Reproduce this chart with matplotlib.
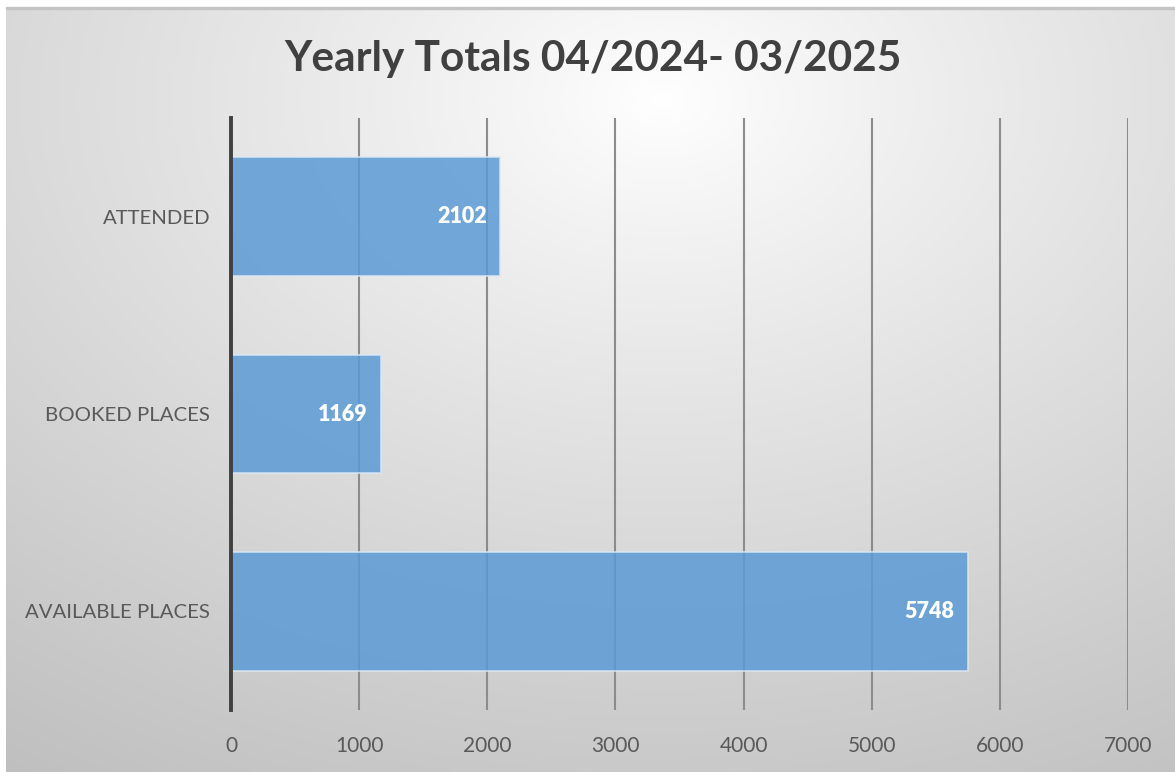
import numpy as np
import matplotlib.pyplot as plt
from matplotlib.patches import Rectangle

categories = ["AVAILABLE PLACES", "BOOKED PLACES", "ATTENDED"]
values = [5748, 1169, 2102]
x_ticks = [0, 1000, 2000, 3000, 4000, 5000, 6000, 7000]
title = "Yearly Totals 04/2024- 03/2025"

W, H = 1175, 772
fig = plt.figure(figsize=(W / 100, H / 100), dpi=100)
fig.patch.set_facecolor("white")

# radial background gradient for the chart area
bg = fig.add_axes([6 / W, 0, 1 - 6 / W, 1 - 7 / H])
bg.set_axis_off()
yy, xx = np.mgrid[0:400, 0:600]
cx, cy = 0.56 * 600, 0.12 * 400
r = np.sqrt(((xx - cx) / 600) ** 2 + ((yy - cy) / 400) ** 2 * 0.9)
r = r / r.max()
shade = 1.0 - 0.25 * np.clip(r, 0, 1) ** 0.9
img = np.dstack([shade, shade, shade])
bg.imshow(img, aspect="auto", extent=[0, 1, 0, 1], origin="upper", interpolation="bilinear")
bg.set_xlim(0, 1)
bg.set_ylim(0, 1)
bg.add_patch(Rectangle((0, 0.997), 1, 0.003, transform=bg.transAxes,
                       color="#c4c4c4", clip_on=False))

ax = fig.add_axes([231 / W, 1 - 710 / H, (1128 - 231) / W, (710 - 118) / H])
ax.patch.set_alpha(0)

ypos = np.arange(len(categories))
bars = ax.barh(ypos, values, height=0.6, color="#5b9bd5", alpha=0.85,
               edgecolor="#dce9f5", linewidth=1.2, zorder=3)

for y, v in zip(ypos, values):
    ax.text(v - 100, y, f"{v}", ha="right", va="center", color="white",
            fontsize=15.5, fontweight="heavy", family="Lato", zorder=4)

ax.set_xlim(0, 7000)
ax.set_ylim(-0.5, 2.5)
ax.set_xticks(x_ticks)
ax.set_xticklabels([str(t) for t in x_ticks], fontsize=15, color="#595959", family="Lato")
ax.set_yticks(ypos)
ax.set_yticklabels(categories, fontsize=14.7, color="#595959", family="Lato")
ax.tick_params(axis="both", length=0)
ax.tick_params(axis="x", pad=19)
ax.tick_params(axis="y", pad=15)

ax.grid(axis="x", color="#8c8c8c", linewidth=1.5, zorder=1)
ax.set_axisbelow(True)
for s in ["top", "right", "bottom"]:
    ax.spines[s].set_visible(False)
ax.spines["left"].set_color("#404040")
ax.spines["left"].set_linewidth(2.8)
ax.spines["left"].set_zorder(5)

fig.text(593 / W, 1 - 59 / H, title, ha="center", va="center", fontsize=30.5,
         fontweight="bold", color="#404040", family="Lato")

fig.savefig("out.png", dpi=100)
